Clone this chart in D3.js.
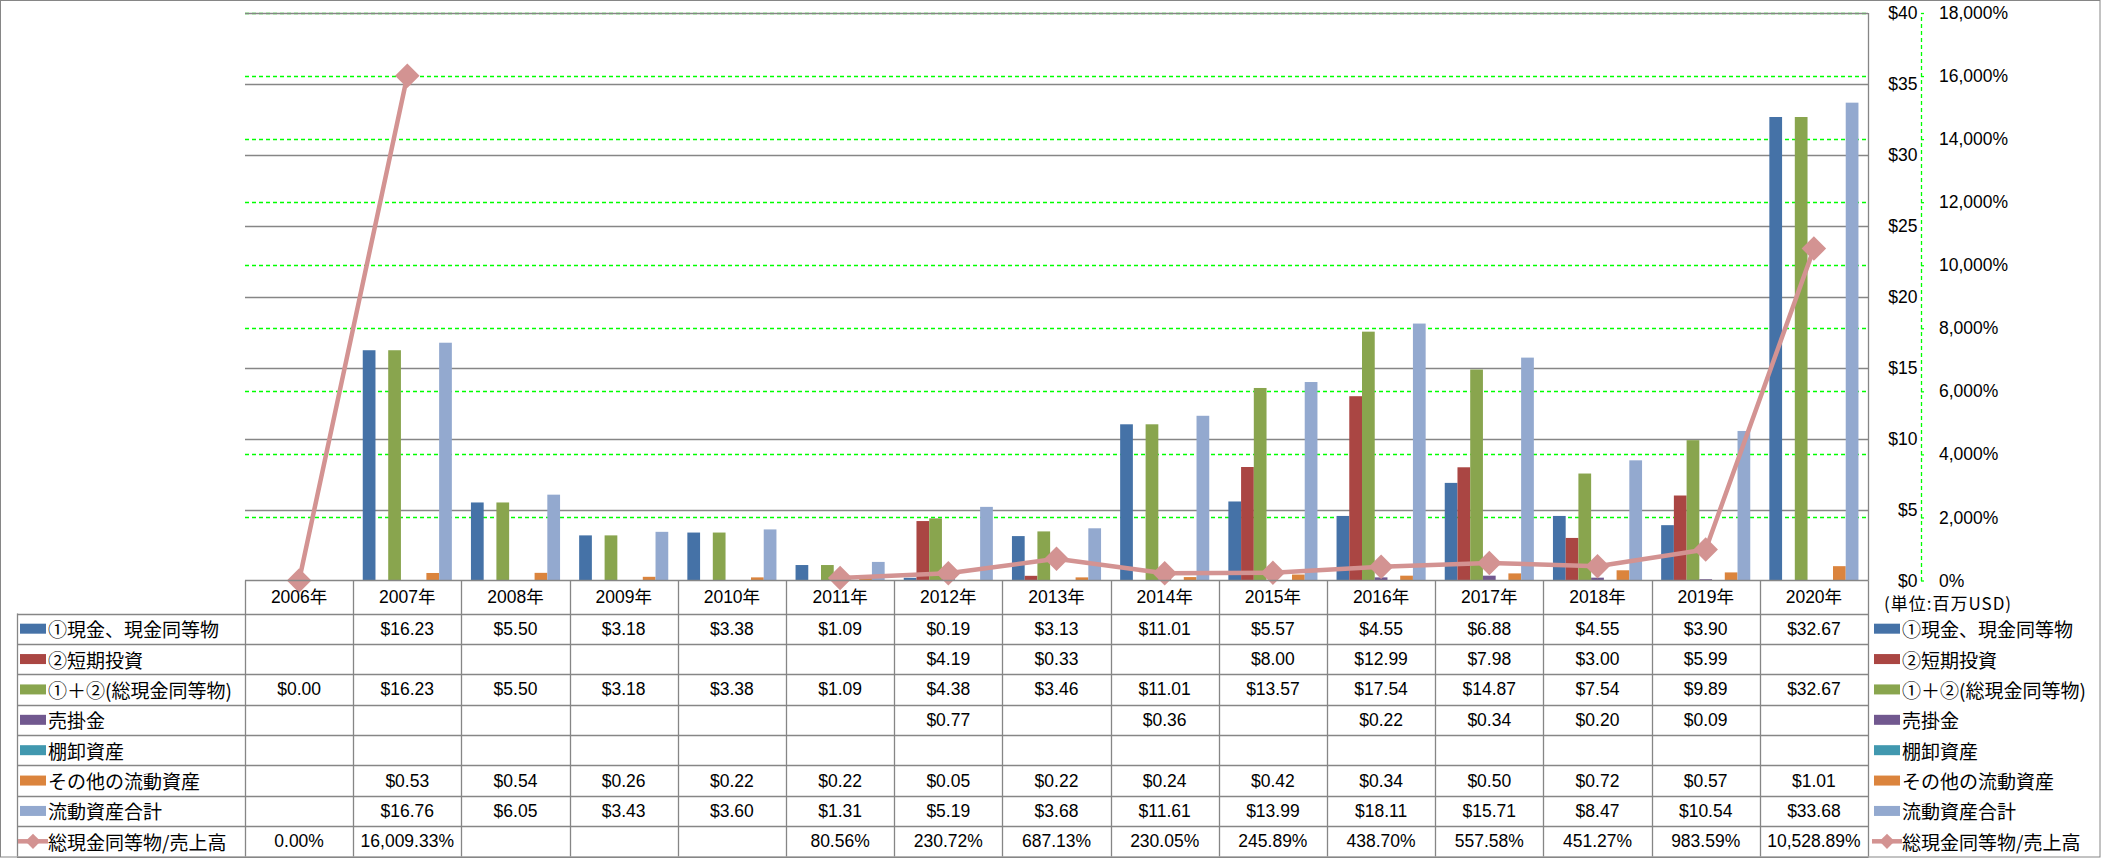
<!DOCTYPE html>
<html>
<head>
<meta charset="utf-8">
<script src="https://cdn.jsdelivr.net/npm/d3@7"></script>
<style>
  html, body { margin: 0; padding: 0; background: #fff; }
  svg { display: block; }
  text { font-family: "Liberation Sans", "Noto Sans CJK JP", sans-serif; fill: #000; }
  .jp { font-family: "Noto Sans CJK JP", sans-serif; }
</style>
</head>
<body>
<svg id="chart" width="2101" height="858"></svg>
<script>
// ---------- DATA ----------
const years = ["2006年","2007年","2008年","2009年","2010年","2011年","2012年","2013年","2014年","2015年","2016年","2017年","2018年","2019年","2020年"];
const cash        = [null,16.23,5.50,3.18,3.38,1.09,0.19,3.13,11.01,5.57,4.55,6.88,4.55,3.90,32.67];
const shortInv    = [null,null,null,null,null,null,4.19,0.33,null,8.00,12.99,7.98,3.00,5.99,null];
const totalCash   = [0.00,16.23,5.50,3.18,3.38,1.09,4.38,3.46,11.01,13.57,17.54,14.87,7.54,9.89,32.67];
const receivables = [null,null,null,null,null,null,0.77,null,0.36,null,0.22,0.34,0.20,0.09,null];
const inventory   = [null,null,null,null,null,null,null,null,null,null,null,null,null,null,null];
const otherCA     = [null,0.53,0.54,0.26,0.22,0.22,0.05,0.22,0.24,0.42,0.34,0.50,0.72,0.57,1.01];
const totalCA     = [null,16.76,6.05,3.43,3.60,1.31,5.19,3.68,11.61,13.99,18.11,15.71,8.47,10.54,33.68];
const cashToSales = [0.00,16009.33,null,null,null,80.56,230.72,687.13,230.05,245.89,438.70,557.58,451.27,983.59,10528.89];

const barNames  = ["①現金、現金同等物","②短期投資","①＋②(総現金同等物)","売掛金","棚卸資産","その他の流動資産","流動資産合計"];
const barValues = [cash, shortInv, totalCash, receivables, inventory, otherCA, totalCA];
const barColors = ["#4572A7","#AA4643","#89A54E","#71588F","#4198AF","#DB843D","#93A9CF"];
const lineName  = "総現金同等物/売上高";
const lineColor = "#D39392";

const leftTicks  = [0,5,10,15,20,25,30,35,40];
const rightTicks = [0,2000,4000,6000,8000,10000,12000,14000,16000,18000];
const unitLabel  = "(単位:百万USD)";

// ---------- LAYOUT ----------
const svg = d3.select("#chart");
const W = 2101, H = 858;
const plotL = 245, plotR = 1868, plotT = 13, plotB = 580.5;
const axisX = 1921;
const gridColor = "#868686";

// outer border
svg.append("rect").attr("x",0.5).attr("y",0.5).attr("width",W-1.5).attr("height",H-1.5)
  .attr("fill","none").attr("stroke",gridColor).attr("stroke-width",1);

const x0 = d3.scaleBand().domain(years).range([plotL, plotR]).padding(0);
const x1 = d3.scaleBand().domain(d3.range(barNames.length)).range([0, x0.bandwidth()])
  .paddingInner(0).paddingOuter(0.75);
const yL = d3.scaleLinear().domain([0,40]).range([plotB, plotT]);
const yR = d3.scaleLinear().domain([0,18000]).range([plotB, plotT]);

// green dashed gridlines (secondary axis)
svg.append("g").selectAll("line").data(rightTicks.filter(d=>d>0)).join("line")
  .attr("x1",plotL).attr("x2",plotR)
  .attr("y1",d=>Math.round(yR(d))+0.5).attr("y2",d=>Math.round(yR(d))+0.5)
  .attr("stroke","#00FF00").attr("stroke-width",1.3).attr("stroke-dasharray","4,3");

// gray gridlines (primary axis)
svg.append("g").selectAll("line").data(leftTicks.filter(d=>d>0)).join("line")
  .attr("x1",plotL).attr("x2",plotR)
  .attr("y1",d=>Math.round(yL(d))+0.5).attr("y2",d=>Math.round(yL(d))+0.5)
  .attr("stroke",gridColor).attr("stroke-width",1.3);

// plot right border
svg.append("line").attr("x1",plotR+0.5).attr("x2",plotR+0.5).attr("y1",plotT).attr("y2",plotB)
  .attr("stroke",gridColor).attr("stroke-width",1.3);

// bars
const barG = svg.append("g");
barValues.forEach((vals, si) => {
  barG.append("g").selectAll("rect")
    .data(vals.map((v,i)=>({v, yr: years[i]})).filter(d=>d.v!=null && d.v>0))
    .join("rect")
    .attr("x", d => x0(d.yr) + x1(si))
    .attr("width", x1.bandwidth())
    .attr("y", d => yL(d.v))
    .attr("height", d => plotB - yL(d.v))
    .attr("fill", barColors[si]);
});

// line series
const pts = cashToSales.map((v,i)=>({v, x: x0(years[i]) + x0.bandwidth()/2}));
const lineGen = d3.line().defined(d=>d.v!=null).x(d=>d.x).y(d=>yR(d.v));
svg.append("path").datum(pts).attr("d", lineGen)
  .attr("fill","none").attr("stroke",lineColor).attr("stroke-width",4.5).attr("stroke-linejoin","round");
const diamond = d3.symbol().type(d3.symbolSquare).size(300);
svg.append("g").selectAll("path").data(pts.filter(d=>d.v!=null)).join("path")
  .attr("d", diamond)
  .attr("transform", d=>`translate(${d.x},${yR(d.v)}) rotate(45)`)
  .attr("fill", lineColor);

// primary axis labels ($)
const axL = d3.axisLeft(yL).tickValues(leftTicks).tickFormat(d=>"$"+d).tickSize(0).tickPadding(3);
const gL = svg.append("g").attr("transform",`translate(${axisX-0.5},0)`).call(axL);
gL.select(".domain").remove();
gL.selectAll("text").attr("font-size",17.5).attr("font-family","Liberation Sans").attr("fill","#000");

// secondary axis (%)
const axR = d3.axisRight(yR).tickValues(rightTicks).tickFormat(d=>d3.format(",")(d)+"%")
  .tickSize(3).tickSizeOuter(0).tickPadding(15);
const gR = svg.append("g").attr("transform",`translate(${axisX},0)`).call(axR);
gR.select(".domain").attr("stroke","#00FF00").attr("stroke-width",1.3).attr("stroke-dasharray","4,3");
gR.selectAll(".tick line").attr("stroke","#00FF00").attr("stroke-width",1.3);
gR.selectAll("text").attr("font-size",17.5).attr("font-family","Liberation Sans").attr("fill","#000");

// unit label
svg.append("text").attr("class","jp").attr("x",1884).attr("y",602)
  .attr("dominant-baseline","central").attr("font-size",17).attr("letter-spacing",1).text(unitLabel);

// ---------- DATA TABLE ----------
const headTop = 580.5, headBot = 613.5, tblBot = 856.5;
const rowNames = barNames.concat([lineName]);
const rowColors = barColors.concat([lineColor]);
const rowData = barValues.concat([cashToSales]);
const nRows = rowNames.length;
const rowH = (tblBot - headBot) / nRows;
const labL = 17;
const tbl = svg.append("g");
const lineStyle = l => l.attr("stroke",gridColor).attr("stroke-width",1.3).attr("fill","none");

// horizontal lines
tbl.append("line").attr("x1",plotL).attr("x2",plotR+0.5).attr("y1",headTop).attr("y2",headTop).call(lineStyle);
d3.range(nRows+1).forEach(r=>{
  const y = Math.round(headBot + r*rowH) + 0.5;
  tbl.append("line").attr("x1",labL).attr("x2",plotR+0.5).attr("y1",y).attr("y2",y).call(lineStyle);
});
// vertical lines
tbl.append("line").attr("x1",labL+0.5).attr("x2",labL+0.5).attr("y1",headBot).attr("y2",tblBot).call(lineStyle);
years.concat(["end"]).forEach((yr,i)=>{
  const x = Math.round(plotL + i*x0.step()) + 0.5;
  tbl.append("line").attr("x1",x).attr("x2",x).attr("y1",headTop).attr("y2",tblBot).call(lineStyle);
});

// header
tbl.append("g").selectAll("text").data(years).join("text")
  .attr("x", d=>x0(d)+x0.bandwidth()/2).attr("y",(headTop+headBot)/2)
  .attr("text-anchor","middle").attr("dominant-baseline","central")
  .attr("font-size",17.5).text(d=>d);

const fmtD = d3.format("$,.2f");
const fmtP = v => d3.format(",.2f")(v) + "%";

rowNames.forEach((name, r) => {
  const cy = headBot + (r+0.5)*rowH;
  const isLine = r === nRows-1;
  // cell values
  tbl.append("g").selectAll("text")
    .data(rowData[r].map((v,i)=>({v, yr: years[i]})).filter(d=>d.v!=null))
    .join("text")
    .attr("x", d=>x0(d.yr)+x0.bandwidth()/2).attr("y", cy)
    .attr("text-anchor","middle").attr("dominant-baseline","central")
    .attr("font-size",17.5)
    .text(d=> isLine ? fmtP(d.v) : fmtD(d.v));

  // legend key in left table and right legend
  [[20, 48], [1874, 1902]].forEach(([kx, tx]) => {
    if (isLine) {
      tbl.append("line").attr("x1",kx-2).attr("x2",kx+28).attr("y1",cy).attr("y2",cy)
        .attr("stroke",rowColors[r]).attr("stroke-width",4.5);
      tbl.append("path").attr("d", d3.symbol().type(d3.symbolSquare).size(115)())
        .attr("transform",`translate(${kx+13},${cy}) rotate(45)`).attr("fill",rowColors[r]);
    } else {
      tbl.append("rect").attr("x",kx).attr("y",cy-5).attr("width",26).attr("height",10)
        .attr("fill",rowColors[r]);
    }
    tbl.append("text").attr("class","jp").attr("x",tx).attr("y",cy)
      .attr("dominant-baseline","central").attr("font-size",19).text(name);
  });
});
</script>
</body>
</html>
